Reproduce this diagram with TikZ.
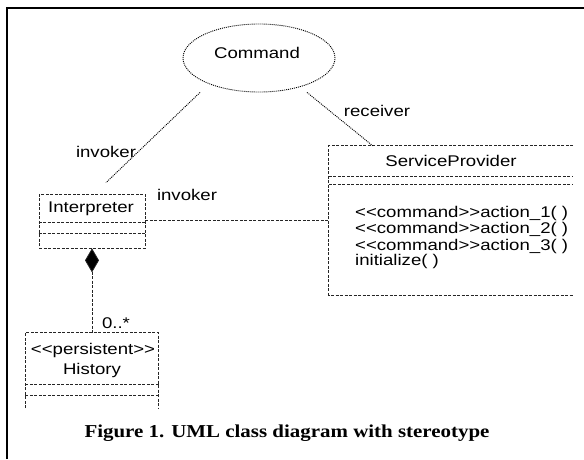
\documentclass[tikz,border=0pt]{standalone}
\usepackage{fontspec}
\setmainfont{Liberation Sans}[FakeStretch=1.2]
\newfontfamily\capfont{Liberation Serif}[FakeStretch=1.15]
\usetikzlibrary{shapes.geometric,arrows.meta}

\newcommand\lguil{<\kern0pt<}
\newcommand\rguil{>\kern0pt>}

\begin{document}
\begin{tikzpicture}[x=1pt,y=-1pt,
    every node/.style={font=\fontsize{15.5}{16.3}\selectfont,inner sep=0pt},
    umlbox/.style={draw=black!85,line width=0.75pt,dash pattern=on 3pt off 1.5pt},
    assoc/.style={draw=black!85,line width=0.75pt,dash pattern=on 3pt off 1.5pt},
    link/.style={draw=black,line width=0.9pt,dash pattern=on 1pt off 1pt}]
      \useasboundingbox (0,0) rectangle (584,459);
      \draw[line width=2pt] (7,459) -- (7,8) -- (584,8);
      % the interface
      \node[ellipse,link,minimum width=152pt,minimum height=68pt] (cmd) at (259,58) {};
      \node (cmdname) at (257,53) {Command};
      % Interpreter
      \node[umlbox,minimum width=106pt,minimum height=54pt] (interp) at (92,221) {};
      \node (interpname) at (91,209) {Interpreter};
      \draw[umlbox] (interp.west |- 0,222) -- (interp.east |- 0,222);
      \draw[umlbox] (interp.west |- 0,233) -- (interp.east |- 0,233);
      % ServiceProvider
      \node[minimum width=244pt,minimum height=149pt] (sp) at (451,220.5) {};
      \draw[umlbox] (sp.north east) -- (sp.north west) -- (sp.south west) -- (sp.south east);
      \draw[umlbox] (sp.west |- 0,176) -- (sp.east |- 0,176);
      \draw[umlbox] (sp.west |- 0,184) -- (sp.east |- 0,184);
      \node (spname) at (451,161) {ServiceProvider};
      \node[anchor=base west] (op1) at (355,217.5) {\lguil command\rguil action\_1( )};
      \node[anchor=base west] (op2) at (355,233.5) {\lguil command\rguil action\_2( )};
      \node[anchor=base west] (op3) at (355,250) {\lguil command\rguil action\_3( )};
      \node[anchor=base west] (op4) at (355,265.5) {initialize( )};
      % History
      \node[minimum width=133pt,minimum height=75pt] (hist) at (92,370.5) {};
      \draw[umlbox] (hist.south west) -- (hist.north west) -- (hist.north east) -- (hist.south east);
      \draw[umlbox] (hist.west |- 0,384) -- (hist.east |- 0,384);
      \draw[umlbox] (hist.west |- 0,395) -- (hist.east |- 0,395);
      \node (histstereo) at (93,350) {\lguil persistent\rguil};
      \node (histname) at (92,370) {History};
      % associations
      \draw[link] ([xshift=-59pt]cmd.south) -- ([xshift=14pt,yshift=11pt]interp.north);
      \draw[link] ([xshift=48pt]cmd.south) -- ([xshift=44pt]sp.north west);
      \draw[assoc] (interp.east |- 0,220) -- (sp.west |- 0,220);
      \draw[assoc,{Diamond[width=14pt,length=24pt,fill=black]}-] (interp.south) -- (hist.north);
      \node (invlabel) at (106,152) {invoker};
      \node (reclabel) at (377,111) {receiver};
      \node (invlabelb) at (187,195) {invoker};
      \node (mult) at (116,323) {0..*};
      \node[font=\capfont\bfseries\fontsize{18.2}{21}\selectfont] (caption) at (287,433) {Figure 1. UML class diagram with stereotype};
\end{tikzpicture}
\end{document}
